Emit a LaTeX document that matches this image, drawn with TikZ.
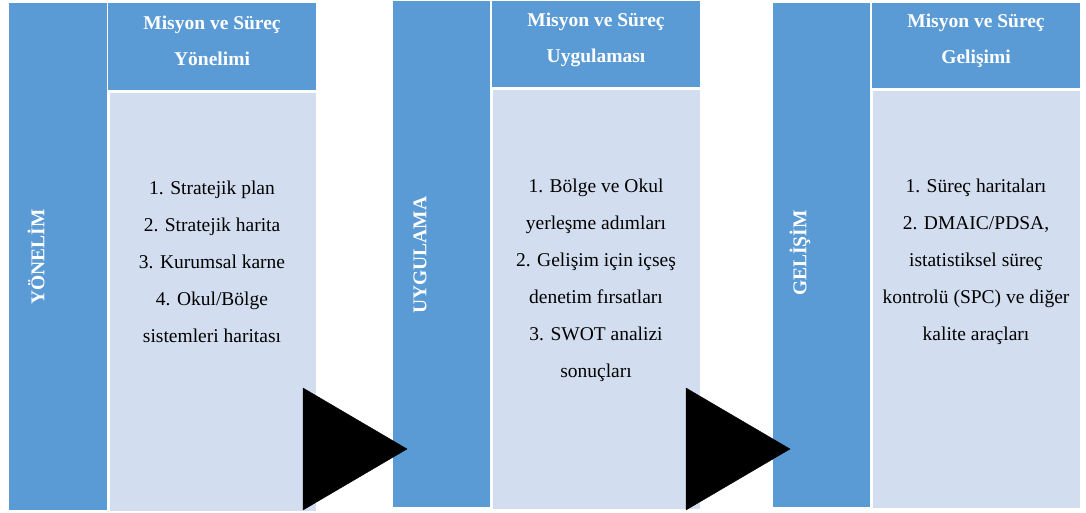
\documentclass[tikz,border=0pt]{standalone}
\usepackage{fontspec}
\setmainfont{Liberation Serif}
\definecolor{colblue}{RGB}{91,155,213}
\definecolor{bodyblue}{RGB}{210,222,239}
\tikzset{
  column/.style={fill=colblue, draw=none},
  header/.style={fill=colblue, draw=none},
  bodybox/.style={fill=bodyblue, draw=none},
  headtext/.style={text=white, font=\fontsize{19.5}{36}\selectfont\bfseries, align=center},
  bodytext/.style={text=black, font=\fontsize{19.5}{37}\selectfont, align=center},
  sidetext/.style={text=white, font=\fontsize{19.5}{22}\selectfont\bfseries, rotate=90},
  arrowtri/.style={fill=black, draw=black}
}
\begin{document}
\begin{tikzpicture}[x=1pt,y=-1pt]
\useasboundingbox[fill=white] (0,0) rectangle (1086,513);
% panel 1
\fill[column] (9,3) rectangle (107,510);
\fill[header] (108,3) rectangle (316,90);
\fill[bodybox] (110,93) rectangle (316,511);
\node[sidetext] (s1) at (36,257) {YÖNELİM};
\node[headtext] (h1) at (212,41) {Misyon ve Süreç\\Yönelimi};
\node[bodytext] (b1) at (212,262) {1. Stratejik plan\\2. Stratejik harita\\3. Kurumsal karne\\4. Okul/Bölge\\sistemleri haritası};
% panel 2
\fill[column] (393,1) rectangle (490,507);
\fill[header] (492,1) rectangle (700,87);
\fill[bodybox] (493,90) rectangle (700,509);
\node[sidetext] (s2) at (420,255) {UYGULAMA};
\node[headtext] (h2) at (596,40) {Misyon ve Süreç\\Uygulaması};
\node[bodytext] (b2) at (596,280) {1. Bölge ve Okul\\yerleşme adımları\\2. Gelişim için içseş\\denetim fırsatları\\3. SWOT analizi\\sonuçları};
% panel 3
\fill[column] (773,3) rectangle (870,507);
\fill[header] (872,3) rectangle (1080,88);
\fill[bodybox] (873,91) rectangle (1080,508);
\node[sidetext] (s3) at (800,253) {GELİŞİM};
\node[headtext] (h3) at (976,41) {Misyon ve Süreç\\Gelişimi};
\node[bodytext] (b3) at (976,262) {1. Süreç haritaları\\2. DMAIC/PDSA,\\istatistiksel süreç\\kontrolü (SPC) ve diğer\\kalite araçları};
% arrows
\fill[arrowtri] (303,388) -- (407,449) -- (303,510) -- cycle;
\fill[arrowtri] (686,388) -- (790,449) -- (686,510) -- cycle;
\end{tikzpicture}
\end{document}
